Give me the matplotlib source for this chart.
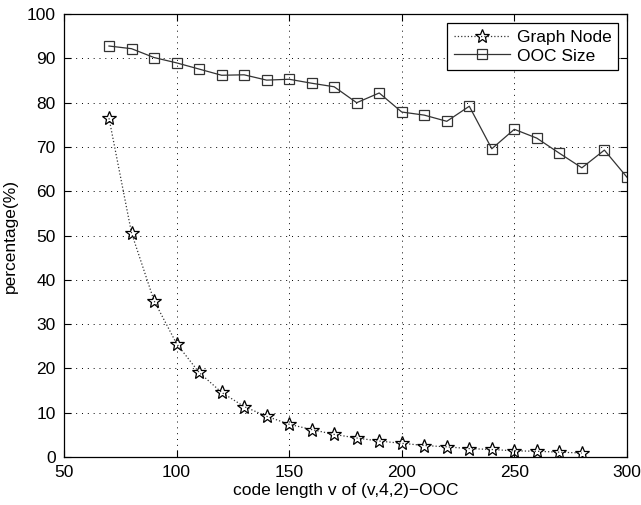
import matplotlib.pyplot as plt
from matplotlib import rcParams

rcParams['font.family'] = ['Liberation Sans', 'DejaVu Sans']

code_length = [70, 80, 90, 100, 110, 120, 130, 140, 150, 160, 170, 180,
               190, 200, 210, 220, 230, 240, 250, 260, 270, 280, 290, 300]
graph_node = [76.5, 50.6, 35.3, 25.6, 19.1, 14.6, 11.4, 9.2, 7.4, 6.2, 5.1,
              4.3, 3.6, 3.1, 2.6, 2.3, 1.9, 1.7, 1.4, 1.3, 1.1, 0.9]
ooc_size = [92.8, 92.2, 90.2, 89.0, 87.6, 86.2, 86.3, 85.1, 85.3, 84.4, 83.6,
            80.0, 82.2, 77.9, 77.2, 75.8, 79.2, 69.6, 74.0, 72.0, 68.6, 65.3,
            69.3, 63.2]

fig = plt.figure(figsize=(6.41, 5.05), dpi=100)
ax = fig.add_axes([0.0998, 0.095, 0.8782, 0.877])

ax.plot(code_length[:len(graph_node)], graph_node, color='#333333', linestyle=':',
        linewidth=0.9, marker='*', markersize=10, markerfacecolor='none',
        markeredgecolor='black', markeredgewidth=0.9, label='Graph Node')
ax.plot(code_length, ooc_size, color='#333333', linestyle='-', linewidth=0.9,
        marker='s', markersize=7.5, markerfacecolor='none',
        markeredgecolor='#333333', markeredgewidth=0.9, label='OOC Size')

ax.set_xlim(50, 300)
ax.set_ylim(0, 100)
ax.set_xticks(range(50, 301, 50))
ax.set_yticks(range(0, 101, 10))
ax.grid(True, linestyle=(0, (1, 5)), color='black', linewidth=0.7)
ax.tick_params(direction='in', top=True, right=True, labelsize=12.5,
               length=5, width=0.8, pad=6)
for s in ax.spines.values():
    s.set_linewidth(0.9)

ax.set_xlabel('code length v of (v,4,2)\u2212OOC', fontsize=12.5, labelpad=2)
ax.set_ylabel('percentage(%)', fontsize=12.5, labelpad=6)

leg = ax.legend(loc='upper right', fontsize=12.5, fancybox=False, framealpha=1,
                edgecolor='black', borderaxespad=0.5, handlelength=3.2,
                borderpad=0.4, labelspacing=0.2, handletextpad=0.4)
leg.get_frame().set_linewidth(0.9)

fig.savefig('out.png', dpi=100)
